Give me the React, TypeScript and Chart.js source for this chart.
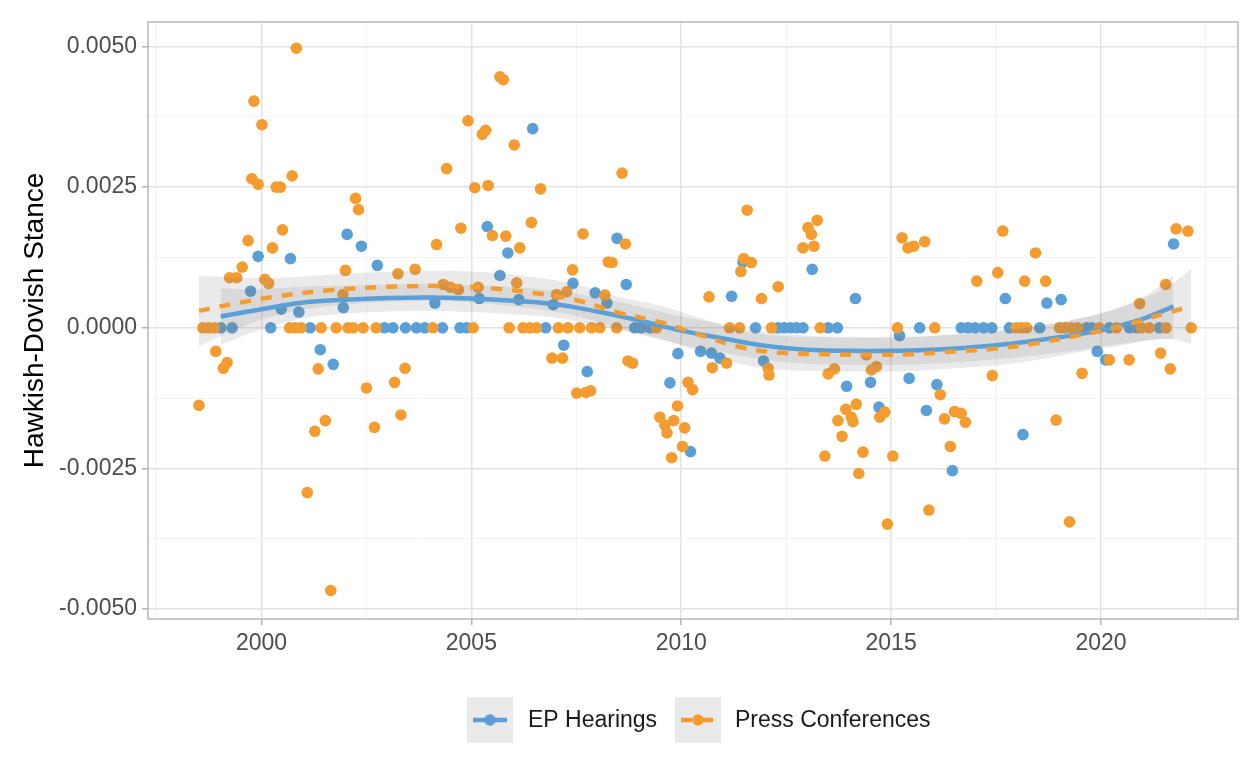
import React, { useEffect, useRef } from "react";
import { Chart, registerables } from "chart.js";

Chart.register(...registerables);

const FONT = '"Liberation Sans", Arial, Helvetica, sans-serif';
const BLUE = "#5A9FD7";
const ORANGE = "#F49C30";
const RIBBON = "rgba(120,120,120,0.155)";

const seriesNames = ["EP Hearings", "Press Conferences"];
const yAxisTitle = "Hawkish-Dovish Stance";
const xTickLabels = [2000, 2005, 2010, 2015, 2020];
const yTickLabels = [-0.005, -0.0025, 0, 0.0025, 0.005];

// EP Hearings (blue points)
const epYears = [
  1999.74, 1999.92, 2000.47, 2000.69, 2000.89, 2001.40, 2001.71, 2001.95, 2002.04, 2002.38,
  2002.76, 2004.13, 2005.19, 2005.38, 2005.68, 2005.87, 2006.13, 2006.46, 2006.95, 2007.20,
  2007.42, 2007.76, 2007.95, 2008.23, 2008.47, 2008.69, 2009.73, 2009.92, 2010.22, 2010.46,
  2010.72, 2010.92, 2011.20, 2011.47, 2011.96, 2013.12, 2013.94, 2014.15, 2014.51, 2014.71,
  2015.20, 2015.43, 2015.84, 2016.09, 2016.46, 2017.72, 2018.14, 2018.71, 2019.05, 2019.91,
  2020.11, 2021.73,
  1999.03, 1999.30, 2000.22, 2001.16, 2002.93, 2003.13, 2003.43, 2003.69, 2003.89, 2004.31,
  2004.73, 2004.89, 2006.77, 2008.89, 2009.05, 2009.25, 2011.77, 2012.30, 2012.45, 2012.60,
  2012.75, 2012.90, 2013.50, 2013.72, 2015.68, 2016.67, 2016.83, 2017.00, 2017.20, 2017.40,
  2017.82, 2018.54, 2019.66, 2019.78, 2020.20, 2020.68, 2020.85, 2021.39,
];
const epValues = [
  0.00065, 0.00127, 0.00033, 0.00123, 0.00028, -0.00039, -0.00065, 0.00036, 0.00166, 0.00145,
  0.00111, 0.00044, 0.00052, 0.0018, 0.00093, 0.00133, 0.0005, 0.00354, 0.00041, -0.00031,
  0.00079, -0.00078, 0.00062, 0.00044, 0.00159, 0.00077, -0.00098, -0.00046, -0.0022, -0.00042,
  -0.00045, -0.00054, 0.00056, 0.00117, -0.00059, 0.00104, -0.00104, 0.00052, -0.00097, -0.00141,
  -0.00014, -0.0009, -0.00147, -0.00101, -0.00254, 0.00052, -0.0019, 0.00044, 0.0005, -0.00042,
  -0.00057, 0.00149,
  0, 0, 0, 0, 0, 0, 0, 0, 0, 0,
  0, 0, 0, 0, 0, 0, 0, 0, 0, 0,
  0, 0, 0, 0, 0, 0, 0, 0, 0, 0,
  0, 0, 0, 0, 0, 0, 0, 0,
];

// Press Conferences (orange points)
const pcYears = [
  1998.51, 1998.91, 1999.09, 1999.18, 1999.24, 1999.41, 1999.54, 1999.68, 1999.77, 1999.82,
  1999.92, 2000.01, 2000.08, 2000.17, 2000.26, 2000.35, 2000.45, 2000.50, 2000.73, 2000.83,
  2001.09, 2001.27, 2001.35, 2001.52, 2001.65, 2001.94, 2002.00, 2002.24, 2002.31, 2002.50,
  2002.69, 2003.17, 2003.25, 2003.32, 2003.42, 2003.66, 2004.17, 2004.33, 2004.41, 2004.50,
  2004.69, 2004.75, 2004.92, 2005.08, 2005.16, 2005.26, 2005.34, 2005.40, 2005.50, 2005.68,
  2005.76, 2005.82, 2006.02, 2006.08, 2006.15, 2006.43, 2006.65, 2006.92, 2007.03, 2007.17,
  2007.27, 2007.41, 2007.51, 2007.66, 2007.73, 2007.84, 2008.18, 2008.26, 2008.35, 2008.59,
  2008.67, 2008.73, 2008.84, 2009.49, 2009.61, 2009.66, 2009.77, 2009.82, 2009.91, 2010.03,
  2010.08, 2010.16, 2010.27, 2010.66, 2010.74, 2011.08, 2011.42, 2011.49, 2011.57, 2011.67,
  2011.91, 2012.07, 2012.09, 2012.31, 2012.90, 2013.02, 2013.10, 2013.16, 2013.24, 2013.42,
  2013.50, 2013.65, 2013.73, 2013.83, 2013.92, 2014.05, 2014.09, 2014.17, 2014.23, 2014.33,
  2014.41, 2014.53, 2014.65, 2014.73, 2014.85, 2014.91, 2015.04, 2015.26, 2015.40, 2015.54,
  2015.80, 2015.90, 2016.17, 2016.27, 2016.41, 2016.51, 2016.67, 2016.77, 2017.04, 2017.41,
  2017.54, 2017.66, 2018.18, 2018.44, 2018.68, 2018.93, 2019.25, 2019.55, 2020.20, 2020.67,
  2020.92, 2021.42, 2021.54, 2021.65, 2021.79, 2022.07,
  1998.60, 1998.74, 1998.88, 2000.67, 2000.80, 2000.94, 2001.42, 2001.78, 2002.06, 2002.18,
  2002.42, 2002.73, 2004.08, 2005.04, 2005.90, 2006.23, 2006.39, 2006.55, 2007.07, 2007.30,
  2007.58, 2007.86, 2008.06, 2008.46, 2009.41, 2011.15, 2011.39, 2012.15, 2013.31, 2015.15,
  2016.04, 2017.98, 2018.11, 2018.23, 2019.01, 2019.15, 2019.30, 2019.44, 2019.96, 2020.37,
  2020.96, 2021.15, 2021.55, 2022.15,
];
const pcValues = [
  -0.00138, -0.00042, -0.00072, -0.00062, 0.00089, 0.00089, 0.00108, 0.00155, 0.00265, 0.00403,
  0.00255, 0.00361, 0.00086, 0.00079, 0.00142, 0.0025, 0.0025, 0.00174, 0.0027, 0.00497,
  -0.00293, -0.00184, -0.00073, -0.00165, -0.00467, 0.00059, 0.00102, 0.0023, 0.0021, -0.00107,
  -0.00177, -0.00097, 0.00096, -0.00155, -0.00072, 0.00104, 0.00148, 0.00077, 0.00283, 0.00072,
  0.00068, 0.00177, 0.00368, 0.00249, 0.00072, 0.00344, 0.00351, 0.00253, 0.00164, 0.00446,
  0.00441, 0.00163, 0.00325, 0.0008, 0.00142, 0.00187, 0.00247, -0.00054, 0.00059, -0.00054,
  0.00064, 0.00103, -0.00116, 0.00167, -0.00115, -0.00112, 0.00058, 0.00117, 0.00116, 0.00275,
  0.00149, -0.00059, -0.00063, -0.00159, -0.00173, -0.00187, -0.00231, -0.00165, -0.00139, -0.00211,
  -0.00178, -0.00097, -0.0011, 0.00055, -0.00071, -0.00063, 0.001, 0.00123, 0.00209, 0.00116,
  0.00052, -0.00072, -0.00084, 0.00073, 0.00142, 0.00178, 0.00166, 0.00145, 0.00191, -0.00228,
  -0.00082, -0.00073, -0.00165, -0.00193, -0.00145, -0.00159, -0.00167, -0.00136, -0.00259, -0.00221,
  -0.00048, -0.00075, -0.00069, -0.00159, -0.0015, -0.00349, -0.00228, 0.0016, 0.00142, 0.00145,
  0.00153, -0.00324, -0.00119, -0.00162, -0.00211, -0.00149, -0.00152, -0.00168, 0.00083, -0.00085,
  0.00098, 0.00172, 0.00083, 0.00133, 0.00083, -0.00164, -0.00345, -0.00081, -0.00057, -0.00057,
  0.00043, -0.00045, 0.00077, -0.00073, 0.00176, 0.00172,
  0, 0, 0, 0, 0, 0, 0, 0, 0, 0,
  0, 0, 0, 0, 0, 0, 0, 0, 0, 0,
  0, 0, 0, 0, 0, 0, 0, 0, 0, 0,
  0, 0, 0, 0, 0, 0, 0, 0, 0, 0,
  0, 0, 0, 0,
];

// Loess fits
const epSmoothYears = [
  1999.03, 2000, 2001, 2002, 2003, 2004, 2005, 2006, 2007, 2008, 2009, 2010, 2011, 2012,
  2013, 2014, 2015, 2016, 2017, 2018, 2019, 2020, 2021, 2021.73,
];
const epSmoothFit = [
  0.0002, 0.00033, 0.00045, 0.0005, 0.00053, 0.00054, 0.00052, 0.00048, 0.00042, 0.00029, 0.00013,
  -0.00005, -0.00019, -0.00032, -0.00039, -0.00041, -0.00041, -0.00039, -0.00034, -0.00027,
  -0.00017, -0.00004, 0.00016, 0.00038,
];
const epSmoothSE = [
  0.0005, 0.00036, 0.00028, 0.00025, 0.00024, 0.00024, 0.00024, 0.00024, 0.00024, 0.00025, 0.00025,
  0.00025, 0.00025, 0.00025, 0.00025, 0.00025, 0.00025, 0.00025, 0.00025, 0.00026, 0.00027,
  0.0003, 0.00039, 0.00056,
];
const pcSmoothYears = [
  1998.51, 1999.5, 2000.5, 2001.5, 2002.5, 2003.5, 2004.5, 2005.5, 2006.5, 2007.5, 2008.5,
  2009.5, 2010.5, 2011.5, 2012.5, 2013.5, 2014.5, 2015.5, 2016.5, 2017.5, 2018.5, 2019.5,
  2020.5, 2021.5, 2022.15,
];
const pcSmoothFit = [
  0.0003, 0.00045, 0.00057, 0.00066, 0.00071, 0.00074, 0.00074, 0.0007, 0.00062, 0.00049,
  0.00027, 0.0001, -0.00014, -0.00036, -0.00045, -0.00047, -0.00048, -0.00047, -0.00042,
  -0.00037, -0.00027, -0.00013, 0.00003, 0.00025, 0.00038,
];
const pcSmoothSE = [
  0.00063, 0.00044, 0.00032, 0.00028, 0.00027, 0.00027, 0.00027, 0.00028, 0.00028, 0.00028,
  0.00028, 0.00029, 0.0003, 0.0003, 0.0003, 0.0003, 0.0003, 0.0003, 0.0003, 0.0003,
  0.0003, 0.0003, 0.00034, 0.00045, 0.00066,
];

const X_MIN = 1997.296;
const X_MAX = 2023.264;
const Y_MIN = -0.005177;
const Y_MAX = 0.005436;

const xAllTicks = [1997.5, 2000, 2002.5, 2005, 2007.5, 2010, 2012.5, 2015, 2017.5, 2020, 2022.5];
const yAllTicks = [-0.005, -0.00375, -0.0025, -0.00125, 0, 0.00125, 0.0025, 0.00375, 0.005];

const isXMajor = (v: number) => xTickLabels.some((t) => Math.abs(t - v) < 1e-6);
const isYMajor = (v: number) => yTickLabels.some((t) => Math.abs(t - v) < 1e-9);

const toPts = (xs: number[], ys: number[]) => xs.map((x, i) => ({ x, y: ys[i] }));

const panelPlugin = {
  id: "panelAndLegend",
  afterDatasetsDraw(chart: any) {
    const { ctx, chartArea } = chart;
    const { left, top, right, bottom } = chartArea;
    ctx.save();
    ctx.strokeStyle = "#b8b8b8";
    ctx.lineWidth = 1.5;
    ctx.strokeRect(left, top, right - left, bottom - top);
    ctx.restore();
  },
  afterDraw(chart: any) {
    const ctx = chart.ctx as CanvasRenderingContext2D;
    ctx.save();
    const keys = [
      { x: 467, color: BLUE, dash: [] as number[], label: seriesNames[0], tx: 528 },
      { x: 675, color: ORANGE, dash: [11, 10], label: seriesNames[1], tx: 735 },
    ];
    const cy = 720;
    for (const k of keys) {
      ctx.fillStyle = "#ffffff";
      ctx.fillRect(k.x, cy - 23, 46, 46);
      ctx.fillStyle = RIBBON;
      ctx.fillRect(k.x, cy - 23, 46, 46);
      ctx.strokeStyle = k.color;
      ctx.lineWidth = 4.5;
      ctx.setLineDash(k.dash);
      ctx.beginPath();
      ctx.moveTo(k.x + 6, cy);
      ctx.lineTo(k.x + 40, cy);
      ctx.stroke();
      ctx.setLineDash([]);
      ctx.fillStyle = k.color;
      ctx.beginPath();
      ctx.arc(k.x + 23, cy, 5.8, 0, Math.PI * 2);
      ctx.fill();
      ctx.fillStyle = "#1a1a1a";
      ctx.font = `23px ${FONT}`;
      ctx.textBaseline = "middle";
      ctx.textAlign = "left";
      ctx.fillText(k.label, k.tx, cy + 1);
    }
    ctx.restore();
  },
};

export default function App() {
  const ref = useRef<HTMLCanvasElement>(null);

  useEffect(() => {
    if (!ref.current) return;
    const epUpper = epSmoothFit.map((v, i) => v + epSmoothSE[i]);
    const epLower = epSmoothFit.map((v, i) => v - epSmoothSE[i]);
    const pcUpper = pcSmoothFit.map((v, i) => v + pcSmoothSE[i]);
    const pcLower = pcSmoothFit.map((v, i) => v - pcSmoothSE[i]);

    const lineBase = {
      type: "line" as const,
      pointRadius: 0,
      pointHoverRadius: 0,
      tension: 0.4,
    };

    const chart = new Chart(ref.current, {
      type: "line",
      data: {
        datasets: [
          {
            ...lineBase,
            label: seriesNames[1] + " fit",
            data: toPts(pcSmoothYears, pcSmoothFit),
            borderColor: ORANGE,
            borderWidth: 4.5,
            borderDash: [11, 10],
            fill: false,
            order: 0,
          },
          {
            ...lineBase,
            label: seriesNames[0] + " fit",
            data: toPts(epSmoothYears, epSmoothFit),
            borderColor: BLUE,
            borderWidth: 4.5,
            fill: false,
            order: 1,
          },
          {
            ...lineBase,
            label: "pc upper",
            data: toPts(pcSmoothYears, pcUpper),
            borderColor: "rgba(0,0,0,0)",
            borderWidth: 1,
            backgroundColor: RIBBON,
            fill: "+1",
            order: 2,
          },
          {
            ...lineBase,
            label: "pc lower",
            data: toPts(pcSmoothYears, pcLower),
            borderColor: "rgba(0,0,0,0)",
            borderWidth: 1,
            fill: false,
            order: 3,
          },
          {
            ...lineBase,
            label: "ep upper",
            data: toPts(epSmoothYears, epUpper),
            borderColor: "rgba(0,0,0,0)",
            borderWidth: 1,
            backgroundColor: RIBBON,
            fill: "+1",
            order: 4,
          },
          {
            ...lineBase,
            label: "ep lower",
            data: toPts(epSmoothYears, epLower),
            borderColor: "rgba(0,0,0,0)",
            borderWidth: 1,
            fill: false,
            order: 5,
          },
          {
            type: "line" as const,
            label: seriesNames[1],
            data: toPts(pcYears, pcValues),
            showLine: false,
            pointRadius: 5.8,
            pointHoverRadius: 5.8,
            pointBackgroundColor: ORANGE,
            pointBorderColor: ORANGE,
            pointBorderWidth: 0,
            order: 6,
          },
          {
            type: "line" as const,
            label: seriesNames[0],
            data: toPts(epYears, epValues),
            showLine: false,
            pointRadius: 5.8,
            pointHoverRadius: 5.8,
            pointBackgroundColor: BLUE,
            pointBorderColor: BLUE,
            pointBorderWidth: 0,
            order: 7,
          },
        ] as any,
      },
      options: {
        responsive: false,
        animation: false,
        devicePixelRatio: 1,
        events: [],
        layout: { padding: { left: 0, right: 11, top: 22, bottom: 98 } },
        plugins: {
          legend: { display: false },
          tooltip: { enabled: false },
        },
        scales: {
          x: {
            type: "linear",
            min: X_MIN,
            max: X_MAX,
            afterBuildTicks: (s: any) => {
              s.ticks = xAllTicks.map((v) => ({ value: v }));
            },
            afterFit: (s: any) => {
              s.height = 50;
            },
            ticks: {
              autoSkip: false,
              maxRotation: 0,
              padding: 5,
              color: "#4d4d4d",
              font: { size: 23, family: FONT },
              callback: (v: any) => (isXMajor(Number(v)) ? String(Math.round(Number(v))) : ""),
            },
            grid: {
              color: (c: any) => (c.tick && isXMajor(c.tick.value) ? "#e2e2e2" : "#f2f2f2"),
              lineWidth: (c: any) => (c.tick && isXMajor(c.tick.value) ? 1.5 : 1),
              tickLength: 6,
              tickWidth: 1.5,
              tickColor: (c: any) =>
                c.tick && isXMajor(c.tick.value) ? "#b3b3b3" : "rgba(0,0,0,0)",
            },
            border: { display: false },
          },
          y: {
            type: "linear",
            min: Y_MIN,
            max: Y_MAX,
            afterBuildTicks: (s: any) => {
              s.ticks = yAllTicks.map((v) => ({ value: v }));
            },
            afterFit: (s: any) => {
              s.width = 148;
            },
            ticks: {
              autoSkip: false,
              padding: 5,
              color: "#4d4d4d",
              font: { size: 23, family: FONT },
              callback: (v: any) => (isYMajor(Number(v)) ? Number(v).toFixed(4) : ""),
            },
            grid: {
              color: (c: any) => (c.tick && isYMajor(c.tick.value) ? "#e2e2e2" : "#f2f2f2"),
              lineWidth: (c: any) => (c.tick && isYMajor(c.tick.value) ? 1.5 : 1),
              tickLength: 6,
              tickWidth: 1.5,
              tickColor: (c: any) =>
                c.tick && isYMajor(c.tick.value) ? "#b3b3b3" : "rgba(0,0,0,0)",
            },
            border: { display: false },
            title: {
              display: true,
              text: yAxisTitle,
              color: "#000000",
              font: { size: 28, family: FONT },
              padding: { top: 18, bottom: 0 },
            },
          },
        },
      },
      plugins: [panelPlugin],
    });
    return () => chart.destroy();
  }, []);

  return (
    <div
      style={{
        position: "fixed",
        left: 0,
        top: 0,
        width: 1249,
        height: 767,
        background: "#ffffff",
      }}
    >
      <canvas
        ref={ref}
        width={1249}
        height={767}
        style={{ display: "block", width: 1249, height: 767 }}
      />
    </div>
  );
}
